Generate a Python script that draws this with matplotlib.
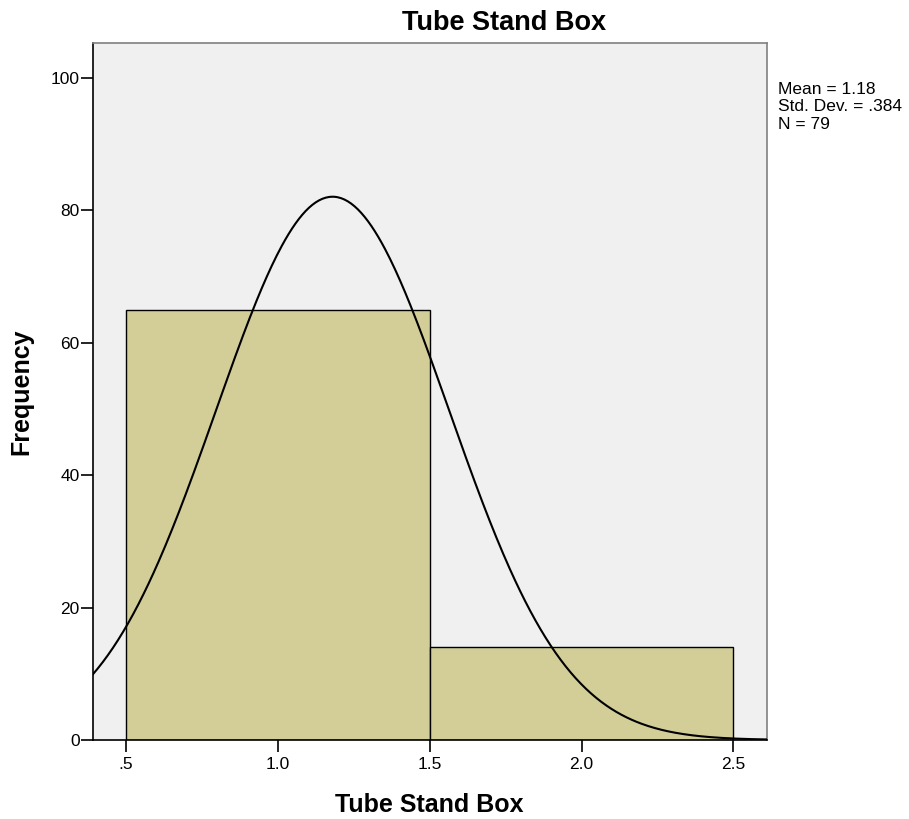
import numpy as np
import matplotlib.pyplot as plt

plt.rcParams['font.family'] = ['Liberation Sans', 'DejaVu Sans']

# Histogram data
bin_edges = [0.5, 1.5, 2.5]
counts = [65, 14]
mean = 1.18
std = 0.384
n = 79

x_ticks = [0.5, 1.0, 1.5, 2.0, 2.5]
x_ticklabels = [".5", "1.0", "1.5", "2.0", "2.5"]
y_ticks = [0, 20, 40, 60, 80, 100]

fig = plt.figure(figsize=(9.09, 8.19), dpi=100)
ax = fig.add_axes([0.102, 0.0965, 0.7415, 0.851])
ax.set_facecolor("#f0f0f0")

widths = np.diff(bin_edges)
ax.bar(bin_edges[:-1], counts, width=widths, align="edge",
       color="#d3ce98", edgecolor="black", linewidth=1.0, zorder=2)

# normal curve
xs = np.linspace(0.39, 2.61, 400)
bw = widths[0]
ys = n * bw / (std * np.sqrt(2 * np.pi)) * np.exp(-0.5 * ((xs - mean) / std) ** 2)
ax.plot(xs, ys, color="black", linewidth=1.5, zorder=3)

ax.set_xlim(0.39, 2.61)
ax.set_ylim(0, 105.3)
ax.set_xticks(x_ticks)
ax.set_xticklabels(x_ticklabels)
ax.set_yticks(y_ticks)
ax.tick_params(axis="both", direction="out", length=8.5, width=1.2, labelsize=12.5, colors="black")
ax.tick_params(axis="x", pad=4)
ax.tick_params(axis="y", pad=1)

for s in ["left", "bottom"]:
    ax.spines[s].set_color("black")
    ax.spines[s].set_linewidth(1.2)
for s in ["top", "right"]:
    ax.spines[s].set_color("#808080")
    ax.spines[s].set_linewidth(1.2)

# SPSS puts the title a bit right of the axes centre
ax.set_title("Tube Stand Box", fontsize=19.5, fontweight="bold", pad=9, x=0.611)
ax.set_xlabel("Tube Stand Box", fontsize=18, fontweight="bold", labelpad=15)
ax.set_ylabel("Frequency", fontsize=18, fontweight="bold", labelpad=12)

fig.text(778 / 909, 1 - 82 / 819,
         f"Mean = {mean:.2f}\nStd. Dev. = .384\nN = {n}",
         ha="left", va="top", fontsize=12.5, linespacing=1.2)

plt.savefig("out.png", dpi=100)
